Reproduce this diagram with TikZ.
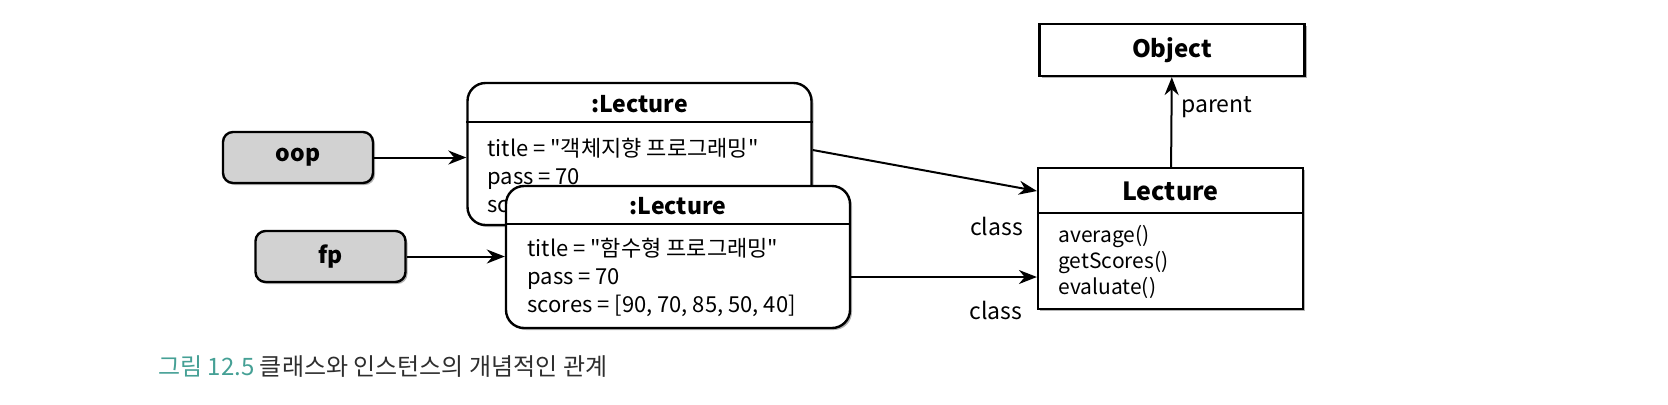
\documentclass[tikz,border=0pt]{standalone}
\usepackage{fontspec}
\setmainfont{Noto Sans CJK KR}[Ligatures=TeXOff]
\usetikzlibrary{arrows.meta,shadows}
\definecolor{capteal}{HTML}{45A095}
\definecolor{captext}{HTML}{2E2E2E}

\begin{document}
\begin{tikzpicture}[x=0.5pt,y=-0.5pt,
   shade/.style={drop shadow={shadow xshift=1pt,shadow yshift=-1pt,opacity=0.6}},
   varbox/.style={draw=black,line width=1.2pt,rounded corners=5pt,fill=gray!35,shade,
                  minimum width=75pt,minimum height=25.5pt,font=\fontsize{11.5}{14}\selectfont\bfseries},
   objbox/.style={draw=black,line width=1.2pt,rounded corners=9pt,fill=white,shade,
                  minimum width=172pt,minimum height=71pt},
   classbox/.style={draw=black,line width=1.1pt,fill=white,shade,minimum width=132.5pt},
   headtext/.style={font=\fontsize{11.5}{14}\selectfont\bfseries},
   classtext/.style={font=\fontsize{12}{15}\selectfont\bfseries},
   bodytext/.style={anchor=west,align=left,inner sep=0pt,font=\fontsize{11}{14}\selectfont},
   methtext/.style={anchor=west,align=left,inner sep=0pt,font=\fontsize{10.5}{13}\selectfont},
   lbl/.style={font=\fontsize{11.5}{14}\selectfont},
   ref/.style={-{Stealth[length=9pt,width=7pt]},line width=1pt}]

\useasboundingbox (0,0) rectangle (1668,404);

\node[varbox,name=oop] at (298,157.5) {oop};
\node[varbox,name=fp] at (330.5,256.5) {fp};

\node[objbox,name=inst1] at (639.5,154) {};
\draw[line width=1pt] (inst1.west |- 0,122) -- (inst1.east |- 0,122);
\node[headtext,name=inst1h] at (639.5,104) {:Lecture};
\node[bodytext,name=inst1b] at (487,175) {title = "객체지향 프로그래밍"\\pass = 70\\scores};

\node[objbox,name=inst2] at (678,257) {};
\draw[line width=1pt] (inst2.west |- 0,224) -- (inst2.east |- 0,224);
\node[headtext,name=inst2h] at (678,206) {:Lecture};
\node[bodytext,name=inst2b] at (527,277) {title = "함수형 프로그래밍"\\pass = 70\\scores = [90, 70, 85, 50, 40]};

\node[classbox,minimum height=26pt,name=object] at (1172,50) {};
\node[classtext,name=objecth] at (1172,50) {Object};

\node[classbox,minimum height=70.5pt,name=lecture] at (1170.5,238.5) {};
\draw[line width=1pt] (lecture.west |- 0,213) -- (lecture.east |- 0,213);
\node[classtext,font=\fontsize{12.5}{15}\selectfont\bfseries,name=lectureh] at (1170.5,191) {Lecture};
\node[methtext,name=lectureb] at (1058,262) {average()\\getScores()\\evaluate()};

\node[lbl,name=class1] at (996.5,226) {class};
\node[lbl,name=class2] at (996,310) {class};

\path[ref]
   (oop) edge (inst1.west |- oop)
   (fp)  edge (inst2.west |- fp)
   ([yshift=2pt]inst1.east) edge (lecture.west |- lectureh)
   (inst2.east |- inst2b) edge (lecture.west |- inst2b)
   (lecture) edge node[lbl,right,pos=0.67,xshift=1pt] {parent} (object);

\node[anchor=west,inner sep=0pt,font=\fontsize{12}{14}\selectfont,text=captext,name=caption] at (158,367)
   {\textcolor{capteal}{그림 12.5} 클래스와 인스턴스의 개념적인 관계};
\end{tikzpicture}
\end{document}
